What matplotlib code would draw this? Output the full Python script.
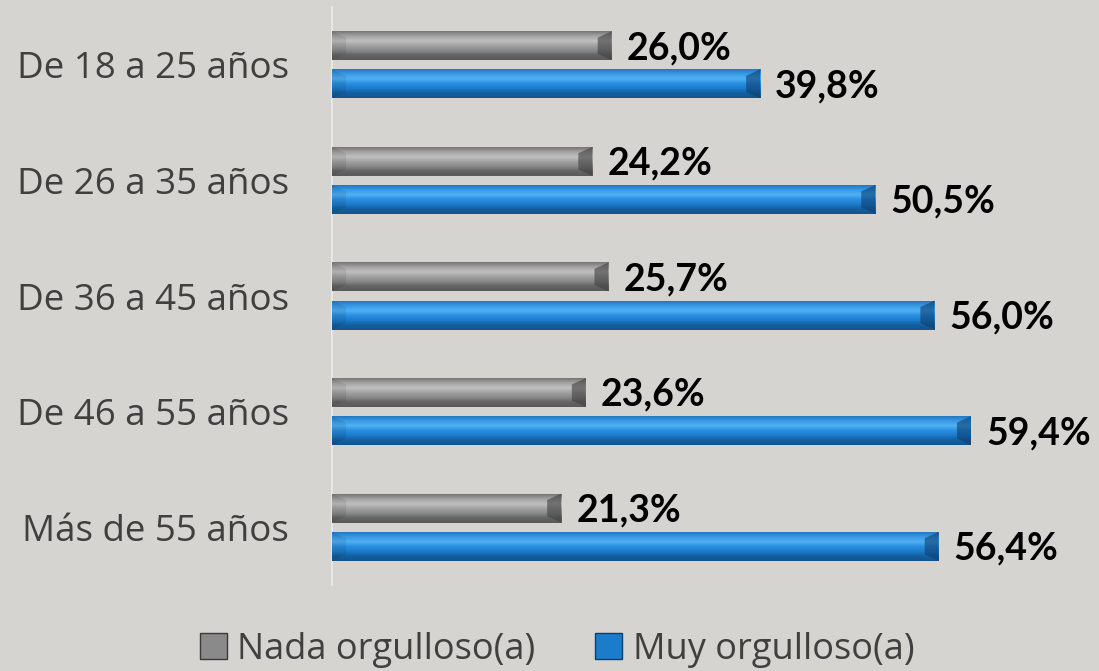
import matplotlib.pyplot as plt
import numpy as np
from matplotlib.colors import LinearSegmentedColormap
from matplotlib.patches import Polygon, Patch

categorias = ['De 18 a 25 años', 'De 26 a 35 años', 'De 36 a 45 años',
              'De 46 a 55 años', 'Más de 55 años']
nada = [0.260, 0.242, 0.257, 0.236, 0.213]
muy = [0.398, 0.505, 0.560, 0.594, 0.564]
series = ['Nada orgulloso(a)', 'Muy orgulloso(a)']

plt.rcParams['font.family'] = ['Open Sans', 'DejaVu Sans']

BG = '#d5d4d0'
grises = ['#767676', '#a4a4a4', '#c0c0c0', '#a2a2a2', '#8a8a8a', '#646464', '#5a5a5a']
azules = ['#2378c2', '#3a9be6', '#4fb0f3', '#2a8ee0', '#1c7ccc', '#13609f', '#105490']
fin_gris = '#3f3f3f'
fin_azul = '#0c3f70'

fig = plt.figure(figsize=(10.99, 6.71), dpi=100, facecolor=BG)
ax = fig.add_axes([332 / 1099, 86 / 671, 753 / 1099, 578 / 671])
ax.set_facecolor(BG)

y = np.arange(len(categorias))
off = 0.165
h = 0.25
b1 = ax.barh(y - off, nada, height=h, color=grises[3], zorder=2)
b2 = ax.barh(y + off, muy, height=h, color=azules[3], zorder=2)

d = 0.013


def bisel(bars, colores, fin):
    cmap = LinearSegmentedColormap.from_list('g', colores)
    grad = np.linspace(0, 1, 64).reshape(-1, 1)
    for p in bars:
        x0, y0 = p.get_x(), p.get_y()
        w, hh = p.get_width(), p.get_height()
        ax.imshow(grad, cmap=cmap, extent=[x0, x0 + w, y0 + hh, y0],
                  aspect='auto', origin='upper', clip_path=p, zorder=3,
                  interpolation='bilinear')
        x1 = x0 + w
        ax.add_patch(Polygon([(x1, y0), (x1, y0 + hh), (x1 - d, y0 + hh * 0.78),
                              (x1 - d, y0 + hh * 0.22)], closed=True,
                             facecolor=fin, alpha=0.6, lw=0, zorder=4))
        ax.add_patch(Polygon([(x0, y0), (x0, y0 + hh), (x0 + d, y0 + hh * 0.78),
                              (x0 + d, y0 + hh * 0.22)], closed=True,
                             facecolor='black', alpha=0.08, lw=0, zorder=4))


bisel(b1, grises, fin_gris)
bisel(b2, azules, fin_azul)

for bars, vals, dy in [(b1, nada, 0.02), (b2, muy, 0.02)]:
    for p, v in zip(bars, vals):
        ax.text(v + 0.014, p.get_y() + p.get_height() / 2 + dy,
                f'{v * 100:.1f}%'.replace('.', ','), va='center', ha='left',
                fontsize=27, fontweight='bold', color='black', zorder=5,
                family=['Lato', 'DejaVu Sans'])

ax.set_xlim(0, 0.70)
ax.set_ylim(len(categorias) - 0.5, -0.5)
ax.set_yticks(y)
ax.set_yticklabels(categorias, fontsize=26.5, color='#404040')
ax.tick_params(axis='y', length=0, pad=31)
ax.set_xticks([])
for s in ['top', 'right', 'bottom']:
    ax.spines[s].set_visible(False)
ax.spines['left'].set_color('#ebebeb')
ax.spines['left'].set_linewidth(1.2)

handles = [Patch(facecolor=grises[4], edgecolor='#3a3a3a'),
           Patch(facecolor=azules[4], edgecolor='#0c3f70')]
fig.legend(handles, series, loc='center', bbox_to_anchor=(0.507, 0.032),
           ncol=2, frameon=False, fontsize=26, labelcolor='#404040',
           handlelength=0.74, handleheight=0.74, handletextpad=0.3,
           columnspacing=1.65, borderpad=0)

fig.savefig('out.png', dpi=100, facecolor=BG)
